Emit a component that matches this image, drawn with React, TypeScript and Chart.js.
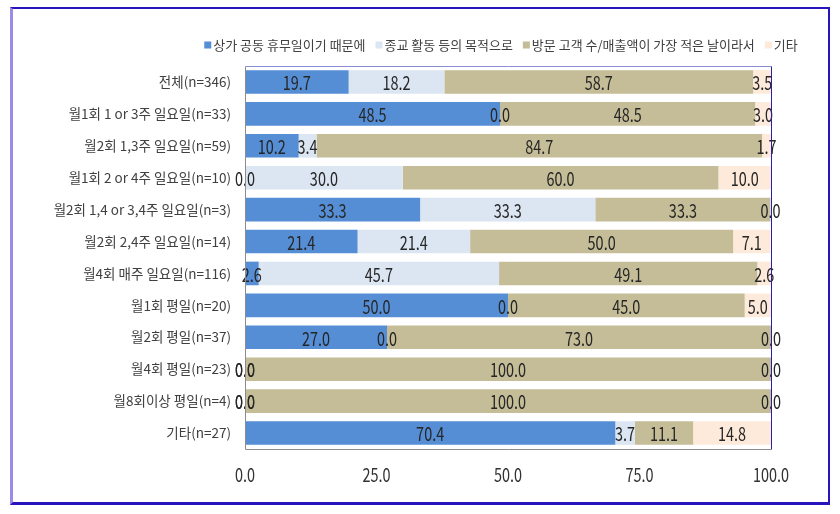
import React, { useEffect, useRef } from "react";
import { Chart, registerables } from "chart.js";

Chart.register(...registerables);

const categories = [
  "전체(n=346)",
  "월1회 1 or 3주 일요일(n=33)",
  "월2회 1,3주 일요일(n=59)",
  "월1회 2 or 4주 일요일(n=10)",
  "월2회 1,4 or 3,4주 일요일(n=3)",
  "월2회 2,4주 일요일(n=14)",
  "월4회 매주 일요일(n=116)",
  "월1회 평일(n=20)",
  "월2회 평일(n=37)",
  "월4회 평일(n=23)",
  "월8회이상 평일(n=4)",
  "기타(n=27)",
];

const seriesNames = [
  "상가 공동 휴무일이기 때문에",
  "종교 활동 등의 목적으로",
  "방문 고객 수/매출액이 가장 적은 날이라서",
  "기타",
];

const closedTogether = [19.7, 48.5, 10.2, 0.0, 33.3, 21.4, 2.6, 50.0, 27.0, 0.0, 0.0, 70.4];
const religion = [18.2, 0.0, 3.4, 30.0, 33.3, 21.4, 45.7, 0.0, 0.0, 0.0, 0.0, 3.7];
const fewestCustomers = [58.7, 48.5, 84.7, 60.0, 33.3, 50.0, 49.1, 45.0, 73.0, 100.0, 100.0, 11.1];
const other = [3.5, 3.0, 1.7, 10.0, 0.0, 7.1, 2.6, 5.0, 0.0, 0.0, 0.0, 14.8];

const xTickValues = [0, 25, 50, 75, 100];

const colors = ["#558ED5", "#DCE6F2", "#C4BD97", "#FDEADA"];

const KR = "'Noto Sans CJK KR', sans-serif";
const SQUEEZE = 0.76;

const drawNarrow = (ctx: any, text: string, x: number, y: number) => {
  ctx.save();
  ctx.translate(x, y);
  ctx.scale(SQUEEZE, 1);
  ctx.fillText(text, 0, 0);
  ctx.restore();
};

const plotBorder = {
  id: "plotBorder",
  afterDraw(chart: any) {
    const { ctx, chartArea: a } = chart;
    ctx.save();
    ctx.lineWidth = 1;
    const line = (x1: number, y1: number, x2: number, y2: number, c: string) => {
      ctx.strokeStyle = c;
      ctx.beginPath();
      ctx.moveTo(x1, y1);
      ctx.lineTo(x2, y2);
      ctx.stroke();
    };
    const l = Math.round(a.left) + 0.5;
    const r = Math.round(a.right) + 0.5;
    const t = Math.round(a.top) + 0.5;
    const b = Math.round(a.bottom) + 0.5;
    line(l, t, r, t, "#8C8CD2");
    line(r, t, r, b, "#2A20A8");
    line(l, b, r, b, "#8C8C8C");
    line(l, t, l, b, "#8C8C8C");
    ctx.restore();
  },
};

const dataLabels = {
  id: "dataLabels",
  afterDatasetsDraw(chart: any) {
    const { ctx } = chart;
    ctx.save();
    ctx.font = `19px ${KR}`;
    ctx.fillStyle = "#262626";
    ctx.textAlign = "center";
    ctx.textBaseline = "middle";
    chart.data.datasets.forEach((ds: any, di: number) => {
      const meta = chart.getDatasetMeta(di);
      meta.data.forEach((el: any, i: number) => {
        const v = ds.data[i];
        const cx = (el.x + el.base) / 2;
        drawNarrow(ctx, Number(v).toFixed(1), cx, el.y + 1);
      });
    });
    ctx.restore();
  },
};

const xAxisLabels = {
  id: "xAxisLabels",
  afterDraw(chart: any) {
    const { ctx } = chart;
    const xs = chart.scales.x;
    ctx.save();
    ctx.font = `19px ${KR}`;
    ctx.fillStyle = "#333333";
    ctx.textAlign = "center";
    ctx.textBaseline = "middle";
    xTickValues.forEach((v) => {
      drawNarrow(ctx, v.toFixed(1), xs.getPixelForValue(v), xs.top + 26);
    });
    ctx.restore();
  },
};

const customLegend = {
  id: "customLegend",
  afterDraw(chart: any) {
    const { ctx } = chart;
    ctx.save();
    ctx.font = `13px ${KR}`;
    ctx.textBaseline = "middle";
    ctx.textAlign = "left";
    const box = 7;
    const gap = 2;
    const itemGap = 10;
    const widths = seriesNames.map((n) => ctx.measureText(n).width);
    const total =
      widths.reduce((s, w) => s + w + box + gap, 0) + itemGap * (seriesNames.length - 1);
    let x = 501 - total / 2;
    const y = 45;
    seriesNames.forEach((n, i) => {
      ctx.fillStyle = colors[i];
      ctx.fillRect(x, y - box / 2, box, box);
      x += box + gap;
      ctx.fillStyle = "#404040";
      ctx.fillText(n, x, y);
      x += widths[i] + itemGap;
    });
    ctx.restore();
  },
};

export default function App() {
  const canvasRef = useRef<HTMLCanvasElement | null>(null);

  useEffect(() => {
    if (!canvasRef.current) return;
    const series = [closedTogether, religion, fewestCustomers, other];
    const chart = new Chart(canvasRef.current, {
      type: "bar",
      data: {
        labels: categories,
        datasets: series.map((d, i) => ({
          label: seriesNames[i],
          data: d,
          backgroundColor: colors[i],
          borderWidth: 0,
          barPercentage: 0.74,
          categoryPercentage: 1,
        })),
      },
      options: {
        indexAxis: "y",
        responsive: false,
        animation: false,
        devicePixelRatio: 1,
        layout: { padding: { top: 66, right: 69, bottom: 25, left: 0 } },
        plugins: {
          legend: { display: false },
          tooltip: { enabled: false },
        },
        scales: {
          x: {
            stacked: true,
            min: 0,
            max: 100,
            grid: { display: false, drawTicks: false },
            border: { display: false },
            afterFit: (s: any) => {
              s.height = 40;
            },
            afterBuildTicks: (s: any) => {
              s.ticks = xTickValues.map((v) => ({ value: v }));
            },
            ticks: { display: false },
          },
          y: {
            stacked: true,
            grid: { display: false, drawTicks: false },
            border: { display: false },
            afterFit: (s: any) => {
              s.width = 245;
            },
            ticks: {
              padding: 14,
              color: "#404040",
              font: { family: KR, size: 13.5 },
              autoSkip: false,
            },
          },
        },
      },
      plugins: [plotBorder, dataLabels, xAxisLabels, customLegend],
    });
    return () => chart.destroy();
  }, []);

  return (
    <div style={{ position: "absolute", left: 0, top: 0, width: 840, height: 514, background: "#ffffff" }}>
      <canvas
        ref={canvasRef}
        width={840}
        height={514}
        style={{ position: "absolute", left: 0, top: 0, width: 840, height: 514, display: "block" }}
      />
      <div
        style={{
          position: "absolute",
          left: 10,
          top: 7,
          width: 820,
          height: 498,
          boxSizing: "border-box",
          borderTop: "2px solid #2814BE",
          borderRight: "2px solid #2814BE",
          borderBottom: "3px solid #2814BE",
          borderLeft: "3px solid #9A8CE6",
          pointerEvents: "none",
        }}
      />
    </div>
  );
}
